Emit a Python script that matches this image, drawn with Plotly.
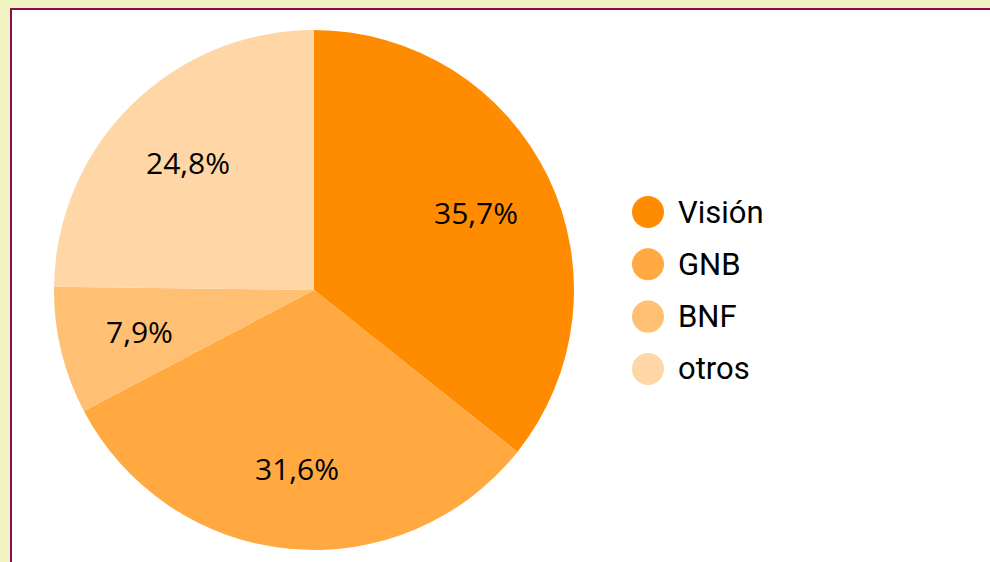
import math
import plotly.graph_objects as go

labels = ["Visión", "GNB", "BNF", "otros"]
values = [35.7, 31.6, 7.9, 24.8]
colors = ["#ff8c00", "#ffa940", "#ffc073", "#ffd7a6"]

W, H = 990, 562
cx, cy, r = 314, 290, 260
label_r = 0.69 * r

fig = go.Figure()
fig.add_trace(go.Pie(
    labels=labels, values=values, sort=False, direction="clockwise", rotation=0,
    marker=dict(colors=colors, line=dict(width=0)),
    textinfo="none", hoverinfo="label+percent", showlegend=False,
    domain=dict(x=[(cx - r) / W, (cx + r) / W], y=[(H - cy - r) / H, (H - cy + r) / H]),
))

shapes = [dict(type="rect", xref="paper", yref="paper", x0=11 / W, x1=1.05, y0=-0.05, y1=1 - 9 / H,
               line=dict(color="#880e4f", width=2), fillcolor="#ffffff", layer="below")]
annotations = []

# slice percentage labels, placed from the cumulative values
total = sum(values)
cum = 0.0
for v in values:
    mid = (cum + v / 2) / total * 2 * math.pi
    cum += v
    px = cx + label_r * math.sin(mid)
    py = cy - label_r * math.cos(mid)
    annotations.append(dict(text=f"{v / total * 100:.1f}%".replace(".", ","),
                            xref="paper", yref="paper", x=px / W, y=1 - py / H,
                            xanchor="center", yanchor="middle", showarrow=False,
                            font=dict(family="Open Sans", size=30, color="#000000")))

# legend with round markers
lx, ly0, dy, d = 648, 212, 52.3, 32
for i, (lab, col) in enumerate(zip(labels, colors)):
    yc = ly0 + i * dy
    shapes.append(dict(type="circle", xref="paper", yref="paper",
                       x0=(lx - d / 2) / W, x1=(lx + d / 2) / W,
                       y0=1 - (yc + d / 2) / H, y1=1 - (yc - d / 2) / H,
                       fillcolor=col, line=dict(width=0)))
    annotations.append(dict(text=lab, xref="paper", yref="paper", x=(lx + 28) / W, y=1 - yc / H,
                            xanchor="left", yanchor="middle", showarrow=False,
                            font=dict(family="Roboto", size=31, color="#000000")))

fig.update_layout(
    width=W, height=H, margin=dict(l=0, r=0, t=0, b=0),
    paper_bgcolor="#f0f4c3", plot_bgcolor="#ffffff",
    separators=",.", shapes=shapes, annotations=annotations,
)
fig.write_html("out.html", config={"displayModeBar": False},
               post_script="document.body.style.margin='0';document.body.style.overflow='hidden';")
